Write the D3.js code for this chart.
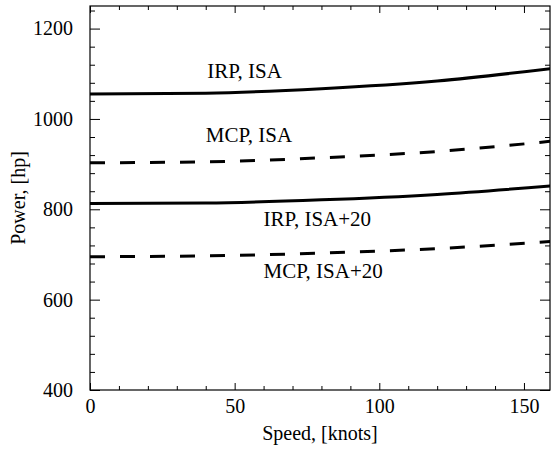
<!DOCTYPE html>
<html><head><meta charset="utf-8">
<script src="https://cdn.jsdelivr.net/npm/d3@7"></script>
<style>
html,body{margin:0;padding:0;background:#fff;}
svg{display:block;}
</style></head>
<body>
<svg id="chart" width="551" height="449"></svg>
<script>
const FONT = "'Liberation Serif', 'Times New Roman', Tinos, Times, serif";
// Data
const speeds = [0, 40, 80, 120, 160];
const irpIsa = [1055, 1057, 1067, 1084, 1112];
const mcpIsa = [903, 905, 914, 928, 951];
const irpIsa20 = [813, 814, 821, 833, 852];
const mcpIsa20 = [695, 697, 703, 713, 729];
const seriesNames = ["IRP, ISA", "MCP, ISA", "IRP, ISA+20", "MCP, ISA+20"];
const seriesDashed = [false, true, false, true];
const labelX = [40.5, 40, 60, 60];
const labelY = [1090, 949, 763, 648];
const xTicks = [0, 50, 100, 150];
const yTicks = [400, 600, 800, 1000, 1200];
const xMinor = d3.range(0, 160, 10);
const yMinor = d3.range(400, 1250, 40);

const L = 90, R = 550, T = 6, B = 390;
const svg = d3.select("#chart");
const x = d3.scaleLinear().domain([0, 159]).range([L, R]);
const y = d3.scaleLinear().domain([400, 1250]).range([B, T]);

svg.append("defs").append("clipPath").attr("id","clip")
  .append("rect").attr("x",L).attr("y",T).attr("width",R-L).attr("height",B-T);

const allSeries = [irpIsa, mcpIsa, irpIsa20, mcpIsa20];
const line = d3.line().x((d,i)=>x(speeds[i])).y(d=>y(d)).curve(d3.curveMonotoneX);
const g = svg.append("g").attr("clip-path","url(#clip)");
allSeries.forEach((s,k)=>{
  g.append("path").attr("d", line(s)).attr("fill","none")
   .attr("stroke","#000").attr("stroke-width",3)
   .attr("stroke-dasharray", seriesDashed[k] ? "15,15" : null);
});

function styleAxis(sel){
  sel.attr("font-family", FONT);
  sel.select(".domain").remove();
  sel.selectAll("line").attr("stroke","#000").attr("stroke-width",1);
  sel.selectAll("text").attr("font-size","20px").attr("font-family", FONT).attr("fill","#000");
}
svg.append("g").attr("transform",`translate(0,${B})`)
  .call(d3.axisBottom(x).tickValues(xTicks).tickSize(-7).tickPadding(9).tickFormat(d3.format("d")))
  .call(styleAxis).selectAll("text").attr("dy","0.71em");
svg.append("g").attr("transform",`translate(0,${B})`)
  .call(d3.axisBottom(x).tickValues(xMinor.filter(v=>v%50)).tickSize(-4).tickFormat(""))
  .call(styleAxis);
svg.append("g").attr("transform",`translate(0,${T})`)
  .call(d3.axisTop(x).tickValues(xTicks).tickSize(-7).tickFormat(""))
  .call(styleAxis);
svg.append("g").attr("transform",`translate(0,${T})`)
  .call(d3.axisTop(x).tickValues(xMinor.filter(v=>v%50)).tickSize(-4).tickFormat(""))
  .call(styleAxis);
svg.append("g").attr("transform",`translate(${L},0)`)
  .call(d3.axisLeft(y).tickValues(yTicks).tickSize(-10).tickPadding(17).tickFormat(d3.format("d")))
  .call(styleAxis);
svg.append("g").attr("transform",`translate(${L},0)`)
  .call(d3.axisLeft(y).tickValues(yMinor.filter(v=>v%200)).tickSize(-5).tickFormat(""))
  .call(styleAxis);
svg.append("g").attr("transform",`translate(${R},0)`)
  .call(d3.axisRight(y).tickValues(yTicks).tickSize(-10).tickFormat(""))
  .call(styleAxis);
svg.append("g").attr("transform",`translate(${R},0)`)
  .call(d3.axisRight(y).tickValues(yMinor.filter(v=>v%200)).tickSize(-5).tickFormat(""))
  .call(styleAxis);

svg.append("rect").attr("x",L).attr("y",T).attr("width",R-L).attr("height",B-T)
  .attr("fill","none").attr("stroke","#000").attr("stroke-width",1.2);

seriesNames.forEach((n,k)=>{
  svg.append("text").attr("x",x(labelX[k])).attr("y",y(labelY[k]))
    .attr("font-family", FONT).attr("font-size","21px").text(n);
});

svg.append("text").attr("x",(L+R)/2).attr("y",440).attr("text-anchor","middle")
  .attr("font-family", FONT).attr("font-size","20px").text("Speed, [knots]");
svg.append("text").attr("transform",`translate(25,${(T+B)/2}) rotate(-90)`)
  .attr("text-anchor","middle").attr("font-family", FONT).attr("font-size","20px").text("Power, [hp]");
</script>
</body></html>
